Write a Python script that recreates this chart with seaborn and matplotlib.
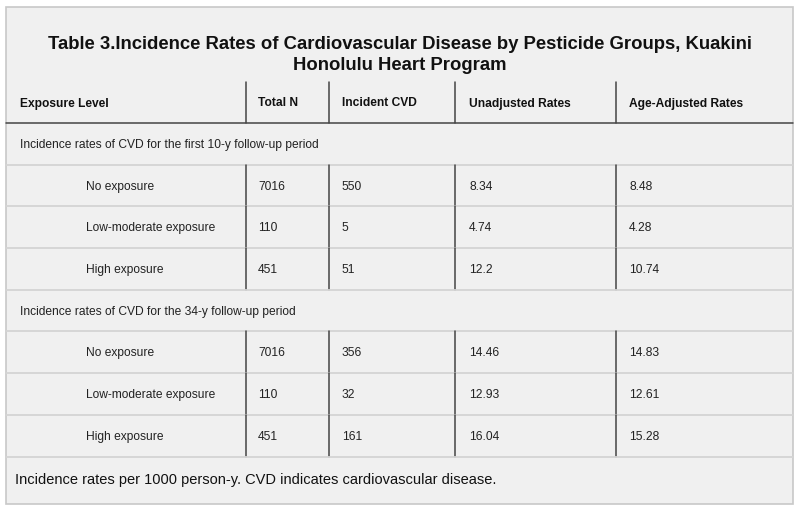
import matplotlib
matplotlib.use('Agg')
import matplotlib.pyplot as plt
import seaborn as sns

# Dados da tabela
title_lines = ['Table 3.Incidence Rates of Cardiovascular Disease by Pesticide Groups, Kuakini',
               'Honolulu Heart Program']
columns = ['Exposure Level', 'Total N', 'Incident CVD', 'Unadjusted Rates', 'Age-Adjusted Rates']
sections = ['Incidence rates of CVD for the first 10-y follow-up period',
            'Incidence rates of CVD for the 34-y follow-up period']
exposure = ['No exposure', 'Low-moderate exposure', 'High exposure']
total_n = [[7016, 110, 451], [7016, 110, 451]]
incident_cvd = [[550, 5, 51], [356, 32, 161]]
unadjusted = [['8.34', '4.74', '12.2'], ['14.46', '12.93', '16.04']]
age_adjusted = [['8.48', '4.28', '10.74'], ['14.83', '12.61', '15.28']]
footnote = 'Incidence rates per 1000 person-y. CVD indicates cardiovascular disease.'

sns.set_theme(style='white')
plt.rcParams['font.family'] = ['Liberation Sans', 'DejaVu Sans']

fig = plt.figure(figsize=(8, 5.1), dpi=100)
ax = fig.add_axes([0, 0, 1, 1])
ax.set_xlim(0, 800)
ax.set_ylim(510, 0)
ax.axis('off')

# Caixa externa
left, right, top, bottom = 6, 793, 8, 505
ax.add_patch(plt.Rectangle((left, top), right - left, bottom - top,
                           facecolor='#f0f0f0', edgecolor='#c8c8c8', lw=1.2))

# Título em duas linhas
for yb, line in zip([49, 70], title_lines):
    ax.text(400, yb, line, ha='center', va='baseline', fontsize=13.3,
            fontweight='bold', color='#111111')

col_x = [20, 258, 342, 469, 629]
vlines = [246, 329, 455, 616]
row_h = 41.7
header_top, header_bot = 83, 124
fs = 8.65

# Cabeçalho
for x, c in zip(col_x, columns):
    ax.text(x, 103.5, c, ha='left', va='center', fontsize=fs,
            fontweight='bold', color='#111111')
for v in vlines:
    ax.plot([v, v], [header_top, header_bot], color='#444444', lw=1.1)
ax.plot([left, right], [header_bot, header_bot], color='#444444', lw=1.1)

y = header_bot
for s in range(2):
    # linha de seção
    ax.text(col_x[0], y + row_h / 2, sections[s], ha='left', va='center',
            fontsize=fs, color='#222222')
    y += row_h
    ax.plot([left, right], [y, y], color='#d4d4d4', lw=1.3)
    for i in range(3):
        yc = y + row_h / 2
        vals = [exposure[i], total_n[s][i], incident_cvd[s][i],
                unadjusted[s][i], age_adjusted[s][i]]
        ax.text(86, yc, vals[0], ha='left', va='center', fontsize=fs, color='#222222')
        for x, v in zip(col_x[1:], vals[1:]):
            ax.text(x, yc, str(v), ha='left', va='center', fontsize=fs, color='#222222')
        for v in vlines:
            ax.plot([v, v], [y, y + row_h], color='#444444', lw=1.1)
        y += row_h
        ax.plot([left, right], [y, y], color='#d4d4d4', lw=1.3)

ax.text(15, 480, footnote, ha='left', va='center', fontsize=10.5, color='#111111')

fig.savefig('out.png', dpi=100, facecolor='white')
